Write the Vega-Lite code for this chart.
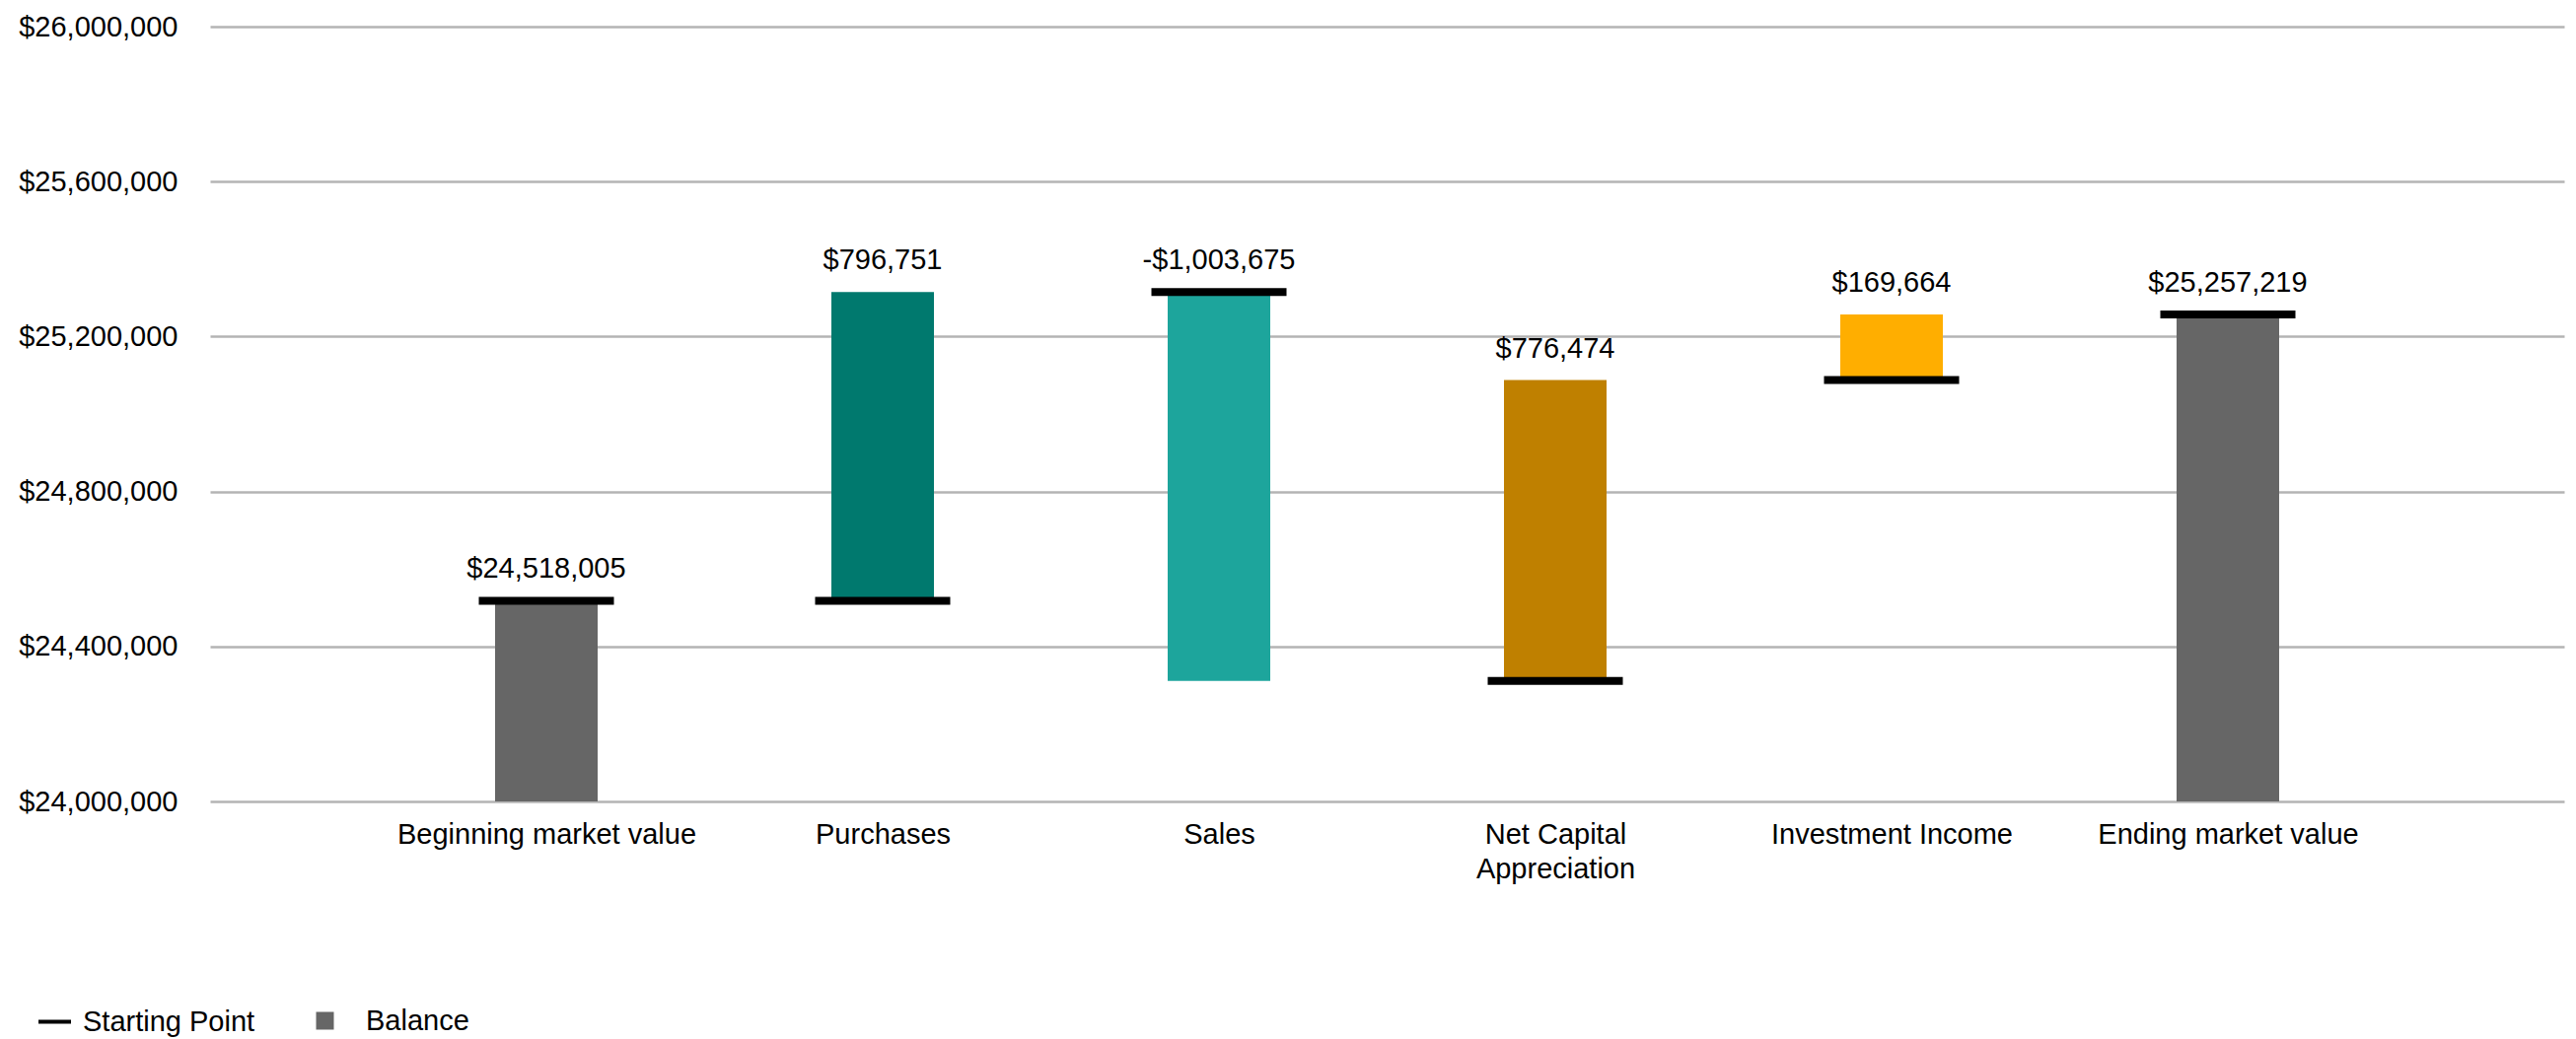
{
  "$schema": "https://vega.github.io/schema/vega-lite/v6.json",
  "width": 2387,
  "height": 786,
  "autosize": {"type": "none"},
  "padding": {"left": 213, "top": 27, "right": 12, "bottom": 241},
  "background": "white",
  "config": {
    "font": "Liberation Sans",
    "view": {"stroke": null},
    "axis": {"labelFont": "Liberation Sans", "labelFontSize": 29, "labelColor": "#000000", "labelLimit": 0},
    "legend": {"labelFont": "Liberation Sans", "labelFontSize": 29, "labelColor": "#000000", "labelLimit": 0, "symbolOpacity": 1}
  },
  "data": {
    "values": [
      {"category": "Beginning market value", "low": 0, "high": 24518005, "start": 24518005, "label": "$24,518,005", "kind": "Balance", "marker": "Starting Point"},
      {"category": "Purchases", "low": 24518005, "high": 25314756, "start": 24518005, "label": "$796,751", "kind": "Purchases", "marker": "Starting Point"},
      {"category": "Sales", "low": 24311081, "high": 25314756, "start": 25314756, "label": "-$1,003,675", "kind": "Sales", "marker": "Starting Point"},
      {"category": "Net Capital Appreciation", "low": 24311081, "high": 25087555, "start": 24311081, "label": "$776,474", "kind": "Net Capital Appreciation", "marker": "Starting Point"},
      {"category": "Investment Income", "low": 25087555, "high": 25257219, "start": 25087555, "label": "$169,664", "kind": "Investment Income", "marker": "Starting Point"},
      {"category": "Ending market value", "low": 0, "high": 25257219, "start": 25257219, "label": "$25,257,219", "kind": "Balance", "marker": "Starting Point"}
    ]
  },
  "encoding": {
    "x": {
      "field": "category",
      "type": "nominal",
      "sort": null,
      "scale": {"type": "point", "padding": 1},
      "axis": {
        "title": null,
        "domain": false,
        "ticks": false,
        "grid": false,
        "labelAngle": 0,
        "labelPadding": 19,
        "labelBaseline": "top",
        "labelLineHeight": 35,
        "labelExpr": "datum.label == 'Net Capital Appreciation' ? ['Net Capital', 'Appreciation'] : datum.label"
      }
    }
  },
  "layer": [
    {
      "mark": {"type": "bar", "size": 104, "clip": true, "opacity": 1},
      "encoding": {
        "y": {
          "field": "high",
          "type": "quantitative",
          "scale": {"domain": [24000000, 26000000], "zero": false, "nice": false},
          "axis": {
            "title": null,
            "format": "$,.0f",
            "values": [24000000, 24400000, 24800000, 25200000, 25600000, 26000000],
            "domain": false,
            "ticks": false,
            "labelPadding": 33,
            "gridColor": "#B4B4B4",
            "gridWidth": 2.5
          }
        },
        "y2": {"field": "low"},
        "color": {
          "field": "kind",
          "type": "nominal",
          "scale": {
            "domain": ["Balance", "Purchases", "Sales", "Net Capital Appreciation", "Investment Income"],
            "range": ["#666666", "#00796E", "#1DA59C", "#BF8000", "#FFAE00"]
          },
          "legend": {
            "values": ["Balance"],
            "title": null,
            "orient": "none",
            "legendX": 102,
            "legendY": 994,
            "padding": 0,
            "symbolType": "square",
            "symbolSize": 324,
            "symbolStrokeWidth": 0,
            "labelOffset": 27
          }
        }
      }
    },
    {
      "mark": {"type": "tick", "size": 137, "thickness": 8, "color": "#000000", "opacity": 1},
      "encoding": {
        "y": {"field": "start", "type": "quantitative"},
        "color": {
          "field": "marker",
          "type": "nominal",
          "scale": {"range": ["#000000"]},
          "legend": {
            "title": null,
            "orient": "none",
            "legendX": -176,
            "legendY": 991,
            "padding": 0,
            "symbolType": "stroke",
            "symbolSize": 1089,
            "symbolStrokeWidth": 4,
            "symbolStrokeColor": "#000000",
            "labelOffset": 10
          }
        }
      }
    },
    {
      "mark": {"type": "text", "baseline": "middle", "align": "center", "dy": -32, "fontSize": 29, "color": "#000000"},
      "encoding": {
        "y": {"field": "high", "type": "quantitative"},
        "text": {"field": "label", "type": "nominal"}
      }
    }
  ],
  "resolve": {"scale": {"color": "independent"}, "legend": {"color": "independent"}}
}
